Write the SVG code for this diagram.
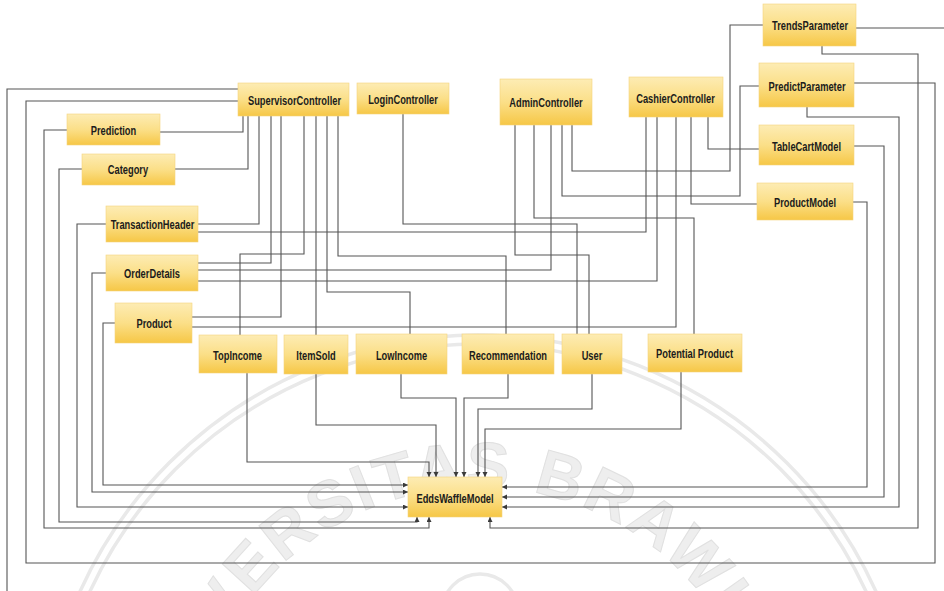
<svg xmlns="http://www.w3.org/2000/svg" width="944" height="591" viewBox="0 0 944 591">
  <defs>
    <linearGradient id="nodeFill" x1="0" y1="0" x2="0" y2="1">
      <stop offset="0" stop-color="#fdecb4"/>
      <stop offset="0.5" stop-color="#fbdf88"/>
      <stop offset="1" stop-color="#f6c746"/>
    </linearGradient>
    <marker id="arrow" markerWidth="6" markerHeight="6" refX="5" refY="2.5" orient="auto" markerUnits="userSpaceOnUse">
      <path d="M0,0 L5,2.5 L0,5 z" fill="#3a3a3a"/>
    </marker>
    <!-- baseline circle for the seal lettering, drawn clockwise from the lower left -->
    <path id="sealArc" d="M231.2,914.5 A285,285 0 1,1 724.8,914.5"/>
  </defs>
  <style>
    .node rect { fill: url(#nodeFill); stroke: #f3d37e; stroke-width: 0.6; }
    .node text { font-family: "Liberation Sans", Arial, sans-serif; font-size: 13.5px; font-weight: bold; fill: #1c1c1c; text-anchor: middle; }
    .wire { fill: none; stroke: #555; stroke-width: 1.1; }
    .wire.to-model { marker-end: url(#arrow); }
    .seal-ring { fill: none; stroke: #e9e9e9; stroke-width: 3.5; }
    .seal-text { font-family: "Liberation Sans", Arial, sans-serif; font-size: 64px; font-weight: bold; fill: #eeeeee; stroke: #e0e0e0; stroke-width: 1; letter-spacing: 3px; }
  </style>

  <rect x="0" y="0" width="944" height="591" fill="#ffffff"/>

  <!-- faint university seal in the background -->
  <g id="seal">
    <circle class="seal-ring" cx="478" cy="772" r="428"/>
    <circle class="seal-ring" cx="478" cy="772" r="437"/>
    <circle class="seal-ring" cx="480" cy="612" r="38"/>
    <text class="seal-text"><textPath href="#sealArc" startOffset="172">UNIVERSITAS BRAWIJAYA</textPath></text>
  </g>

  <!-- connectors -->
  <g id="connectors">
    <!-- SupervisorController -->
    <path class="wire" d="M243,116 V132 H160"/>
    <path class="wire" d="M248,116 V169 H175"/>
    <path class="wire" d="M259,116 V224 H198"/>
    <path class="wire" d="M271,116 V263 H198"/>
    <path class="wire" d="M281,116 V317 H192"/>
    <path class="wire" d="M304,116 V254 H240 V335"/>
    <path class="wire" d="M316,116 V335"/>
    <path class="wire" d="M327,116 V292 H410 V334"/>
    <path class="wire" d="M338,116 V256 H506 V334"/>
    <path class="wire" d="M238,89 H7 V591"/>
    <path class="wire" d="M238,101 H26 V563 H935 V83 H854"/>
    <!-- LoginController -->
    <path class="wire" d="M403,114 V224 H577 V334"/>
    <!-- AdminController -->
    <path class="wire" d="M515,125 V255 H589 V334"/>
    <path class="wire" d="M534,125 V218 H694 V334"/>
    <path class="wire" d="M551,125 V270 H198"/>
    <path class="wire" d="M562,125 V196 H740 V86 H759"/>
    <path class="wire" d="M572,125 V171 H730 V25 H763"/>
    <!-- CashierController -->
    <path class="wire" d="M646,117 V232 H198"/>
    <path class="wire" d="M657,117 V281 H198"/>
    <path class="wire" d="M676,117 V327 H192"/>
    <path class="wire" d="M691,117 V204 H757"/>
    <path class="wire" d="M708,117 V149 H759"/>
    <!-- parameters and models on the right -->
    <path class="wire" d="M856,28 H944"/>
    <path class="wire to-model" d="M822,46 V54 H918 V528 H490 V517"/>
    <path class="wire to-model" d="M807,107 V117 H899 V507 H502"/>
    <path class="wire to-model" d="M854,146 H884 V497 H502"/>
    <path class="wire to-model" d="M853,202 H867 V487 H502"/>
    <!-- left column into EddsWaffleModel -->
    <path class="wire to-model" d="M67,130 H44 V528 H429 V517"/>
    <path class="wire to-model" d="M82,169 H59 V522 H417 V517"/>
    <path class="wire to-model" d="M106,224 H77 V507 H408"/>
    <path class="wire to-model" d="M106,273 H92 V492 H408"/>
    <path class="wire to-model" d="M115,323 H103 V485 H408"/>
    <!-- report row into EddsWaffleModel -->
    <path class="wire to-model" d="M247,373 V462 H429 V477"/>
    <path class="wire to-model" d="M316,374 V425 H436 V477"/>
    <path class="wire to-model" d="M401,374 V398 H456 V477"/>
    <path class="wire to-model" d="M508,374 V398 H464 V477"/>
    <path class="wire to-model" d="M592,374 V409 H478 V477"/>
    <path class="wire to-model" d="M681,372 V429 H485 V477"/>
  </g>

  <!-- nodes: labels are set in a condensed cut by squeezing the face horizontally -->
  <g id="SupervisorController" class="node"><rect x="238" y="83" width="111" height="33"/><text transform="translate(294.5 105) scale(0.69 1)">SupervisorController</text></g>
  <g id="LoginController" class="node"><rect x="357" y="83" width="92" height="31"/><text transform="translate(403 104) scale(0.69 1)">LoginController</text></g>
  <g id="AdminController" class="node"><rect x="500" y="79" width="92" height="46"/><text transform="translate(546 107) scale(0.69 1)">AdminController</text></g>
  <g id="CashierController" class="node"><rect x="629" y="77" width="94" height="40"/><text transform="translate(675.5 103) scale(0.69 1)">CashierController</text></g>
  <g id="TrendsParameter" class="node"><rect x="763" y="4" width="93" height="42"/><text transform="translate(810 30) scale(0.69 1)">TrendsParameter</text></g>
  <g id="PredictParameter" class="node"><rect x="759" y="63" width="95" height="44"/><text transform="translate(807 91) scale(0.69 1)">PredictParameter</text></g>
  <g id="TableCartModel" class="node"><rect x="759" y="125" width="95" height="40"/><text transform="translate(806.5 151) scale(0.69 1)">TableCartModel</text></g>
  <g id="ProductModel" class="node"><rect x="757" y="183" width="96" height="37"/><text transform="translate(805 207) scale(0.69 1)">ProductModel</text></g>
  <g id="Prediction" class="node"><rect x="67" y="114" width="93" height="31"/><text transform="translate(113.5 135) scale(0.69 1)">Prediction</text></g>
  <g id="Category" class="node"><rect x="82" y="154" width="93" height="31"/><text transform="translate(128 174) scale(0.69 1)">Category</text></g>
  <g id="TransactionHeader" class="node"><rect x="106" y="206" width="92" height="36"/><text transform="translate(152.5 229) scale(0.69 1)">TransactionHeader</text></g>
  <g id="OrderDetails" class="node"><rect x="106" y="255" width="92" height="36"/><text transform="translate(152 278) scale(0.69 1)">OrderDetails</text></g>
  <g id="Product" class="node"><rect x="115" y="303" width="77" height="40"/><text transform="translate(154 328) scale(0.69 1)">Product</text></g>
  <g id="TopIncome" class="node"><rect x="199" y="335" width="78" height="38"/><text transform="translate(237.5 360) scale(0.69 1)">TopIncome</text></g>
  <g id="ItemSold" class="node"><rect x="284" y="335" width="64" height="39"/><text transform="translate(316 360) scale(0.69 1)">ItemSold</text></g>
  <g id="LowIncome" class="node"><rect x="356" y="334" width="91" height="40"/><text transform="translate(401.5 360) scale(0.69 1)">LowIncome</text></g>
  <g id="Recommendation" class="node"><rect x="462" y="334" width="92" height="40"/><text transform="translate(508 360) scale(0.69 1)">Recommendation</text></g>
  <g id="User" class="node"><rect x="562" y="334" width="60" height="40"/><text transform="translate(592 360) scale(0.69 1)">User</text></g>
  <g id="PotentialProduct" class="node"><rect x="648" y="334" width="94" height="38"/><text transform="translate(694.5 358) scale(0.69 1)">Potential Product</text></g>
  <g id="EddsWaffleModel" class="node"><rect x="408" y="477" width="94" height="40"/><text transform="translate(455 503) scale(0.69 1)">EddsWaffleModel</text></g>
</svg>
